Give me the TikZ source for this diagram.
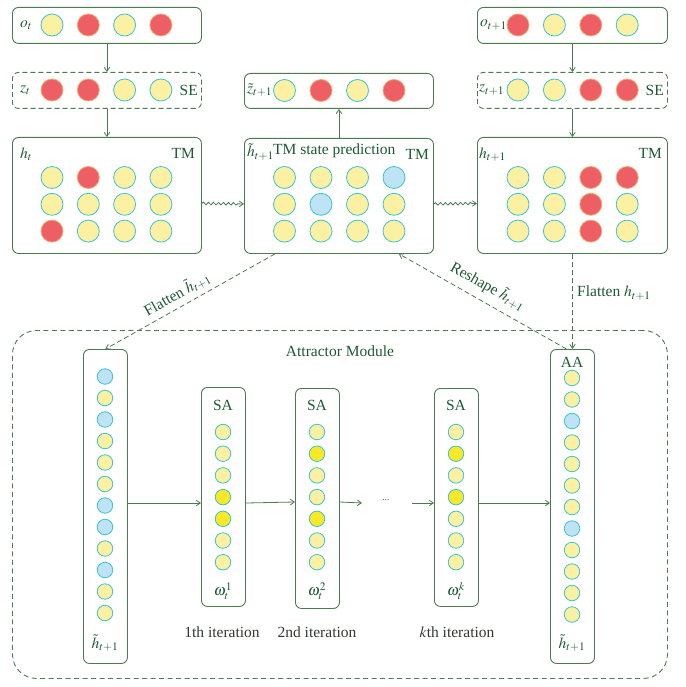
\documentclass[tikz,border=0pt]{standalone}
\usepackage{mathptmx}
\usepackage{fontspec}
\setmainfont{Liberation Serif}
\usetikzlibrary{arrows.meta,decorations.pathmorphing}
\definecolor{boxg}{RGB}{76,122,80}
\definecolor{txtg}{RGB}{30,88,50}
\definecolor{yelf}{RGB}{252,240,162}
\definecolor{cyb}{RGB}{60,196,206}
\definecolor{redf}{RGB}{238,95,101}
\definecolor{redb}{RGB}{244,168,112}
\definecolor{bluef}{RGB}{190,227,245}
\definecolor{brightf}{RGB}{248,232,40}
\definecolor{darktxt}{RGB}{50,55,50}
\tikzset{
  bx/.style={draw=boxg, line width=0.9pt, rounded corners=6pt, inner sep=0pt},
  dbx/.style={bx, dash pattern=on 5pt off 3pt},
  cc/.style={circle, line width=0.8pt, minimum size=22pt, inner sep=0pt},
  cY/.style={cc, draw=cyb, fill=yelf},
  cR/.style={cc, draw=redb, fill=redf},
  cB/.style={cc, draw=cyb, fill=bluef},
  sc/.style={circle, line width=0.8pt, minimum size=15.5pt, inner sep=0pt},
  sY/.style={sc, draw=cyb, fill=yelf},
  sB/.style={sc, draw=cyb, fill=bluef},
  sK/.style={sc, draw=cyb, fill=brightf},
  lbl/.style={text=txtg, inner sep=0pt},
  dlbl/.style={text=darktxt, inner sep=0pt},
  arr/.style={draw=boxg, line width=0.8pt, -{Straight Barb[length=4pt,width=5.5pt]}},
  darr/.style={arr, dash pattern=on 5pt off 3pt},
  wavy/.style={arr, decorate, decoration={snake, amplitude=1.3pt, segment length=5pt, post length=4pt}}
}
\begin{document}
\begin{tikzpicture}[x=1pt,y=-1pt, font=\fontsize{15.5}{18}\selectfont]
\useasboundingbox (0,0) rectangle (685,687);

% ---------- top boxes ----------
\node[bx, minimum width=189pt, minimum height=36pt, anchor=north west] (ot) at (12,7) {};
\node[dbx, minimum width=189pt, minimum height=36pt, anchor=north west] (zt) at (12,72) {};
\node[bx, minimum width=189pt, minimum height=116pt, anchor=north west] (ht) at (12,137) {};
\node[bx, minimum width=189pt, minimum height=35pt, anchor=north west] (zp) at (244,73) {};
\node[bx, minimum width=189pt, minimum height=115pt, anchor=north west] (hp) at (244,138) {};
\node[bx, minimum width=190pt, minimum height=36pt, anchor=north west] (on) at (477,7) {};
\node[dbx, minimum width=190pt, minimum height=36pt, anchor=north west] (zn) at (477,72) {};
\node[bx, minimum width=190pt, minimum height=116pt, anchor=north west] (hn) at (477,137) {};

% circles in top rows
\foreach \c [count=\i from 0] in {cY,cR,cY,cR} \node[\c] (ot-\i) at (52+36.3*\i,25) {};
\foreach \c [count=\i from 0] in {cR,cR,cY,cY} \node[\c] (zt-\i) at (52+36.3*\i,90) {};
\foreach \c [count=\i from 0] in {cY,cR,cY,cR} \node[\c] (zp-\i) at (284.5+36.5*\i,90.5) {};
\foreach \c [count=\i from 0] in {cR,cY,cR,cY} \node[\c] (on-\i) at (518+36.4*\i,25) {};
\foreach \c [count=\i from 0] in {cY,cY,cR,cR} \node[\c] (zn-\i) at (518+36.4*\i,90) {};

% grids
\foreach \row [count=\r from 0] in {{cY,cR,cY,cY},{cY,cY,cY,cY},{cR,cY,cY,cY}}
  \foreach \c [count=\i from 0] in \row \node[\c] (ht-\r-\i) at (52+36.3*\i,177.5+26.8*\r) {};
\foreach \row [count=\r from 0] in {{cY,cY,cY,cB},{cY,cB,cY,cY},{cY,cY,cY,cY}}
  \foreach \c [count=\i from 0] in \row \node[\c] (hp-\r-\i) at (284.5+36.5*\i,177.5+26.8*\r) {};
\foreach \row [count=\r from 0] in {{cY,cY,cR,cR},{cY,cY,cR,cY},{cY,cY,cR,cY}}
  \foreach \c [count=\i from 0] in \row \node[\c] (hn-\r-\i) at (518+36.4*\i,177.5+26.8*\r) {};

% labels top
\node[lbl, anchor=west] (lot) at (20,25) {$o_t$};
\node[lbl, anchor=west] (lzt) at (20,90) {$z_t$};
\node[lbl, anchor=east] (lse1) at (198,90) {SE};
\node[lbl, anchor=base west] (lht) at (20,158) {$h_t$};
\node[lbl, anchor=base east] (ltm1) at (195,158) {TM};
\node[lbl, anchor=west] (lzp) at (247,90) {$\tilde{z}_{t+1}$};
\node[lbl, anchor=base west] (lhp) at (247,157) {$\tilde{h}_{t+1}$};
\node[lbl, anchor=base west] (lpred) at (273,155) {TM state prediction};
\node[lbl, anchor=base east] (ltm2) at (429,160) {TM};
\node[lbl, anchor=west] (lon) at (480,25) {$o_{t+1}$};
\node[lbl, anchor=west] (lzn) at (479,90) {$z_{t+1}$};
\node[lbl, anchor=east] (lse2) at (664,90) {SE};
\node[lbl, anchor=base west] (lhn) at (479,158) {$h_{t+1}$};
\node[lbl, anchor=base east] (ltm3) at (662,158) {TM};

% top connectors
\draw[arr] (ot.south) -- (zt.north);
\draw[arr] (zt.south) -- (ht.north);
\draw[arr] (on.south) -- (zn.north);
\draw[arr] (zn.south) -- (hn.north);
\draw[arr] (hp.north) -- (zp.south);
\draw[wavy] ([yshift=-8pt]ht.east) -- ([yshift=-8pt]hp.west);
\draw[wavy] ([yshift=-8pt]hp.east) -- ([yshift=-8pt]hn.west);

% ---------- attractor module ----------
\node[draw=boxg, line width=0.9pt, dash pattern=on 5pt off 3.5pt, rounded corners=24pt,
      minimum width=655pt, minimum height=348pt, anchor=north west, inner sep=0pt] (am) at (12,330) {};
\node[lbl] (lam) at (340,351) {Attractor Module};

\node[bx, minimum width=44pt, minimum height=314pt, anchor=north west] (fl) at (83,349) {};
\node[bx, minimum width=44pt, minimum height=314pt, anchor=north west] (aa) at (550,349) {};
\node[bx, minimum width=44pt, minimum height=219pt, anchor=north west] (sa1) at (201,387) {};
\node[bx, minimum width=44pt, minimum height=220pt, anchor=north west] (sa2) at (295,388) {};
\node[bx, minimum width=44pt, minimum height=218pt, anchor=north west] (sa3) at (434,388) {};

\foreach \c [count=\i from 0] in {sB,sY,sB,sY,sY,sY,sB,sB,sY,sB,sY,sY}
  \node[\c] (fl-\i) at (105,376.5+21.5*\i) {};
\foreach \c [count=\i from 0] in {sY,sY,sB,sY,sY,sY,sY,sB,sY,sY,sY,sY}
  \node[\c] (aa-\i) at (572,378+21.5*\i) {};
\foreach \c [count=\i from 0] in {sY,sY,sY,sK,sK,sY,sY}
  \node[\c] (sa1-\i) at (223,432+21.7*\i) {};
\foreach \c [count=\i from 0] in {sY,sK,sY,sY,sK,sY,sY}
  \node[\c] (sa2-\i) at (317,432+21.7*\i) {};
\foreach \c [count=\i from 0] in {sY,sK,sY,sK,sY,sY,sY}
  \node[\c] (sa3-\i) at (456,432+21.7*\i) {};

\node[lbl] (lsa1) at (223,405) {SA};
\node[lbl] (lsa2) at (317,405) {SA};
\node[lbl] (lsa3) at (456,405) {SA};
\node[lbl] (law1) at (223,591) {$\omega_t^1$};
\node[lbl] (law2) at (317,591) {$\omega_t^2$};
\node[lbl] (law3) at (456,591) {$\omega_t^k$};
\node[dlbl] (lit1) at (222,632) {1th iteration};
\node[dlbl] (lit2) at (317,632) {2nd iteration};
\node[dlbl] (lit3) at (457,632) {$k$th iteration};
\node[lbl] (lfl) at (105,643) {$\tilde{h}_{t+1}$};
\node[lbl] (laa) at (572,362) {AA};
\node[lbl] (laab) at (572,643) {$\tilde{h}_{t+1}$};
\node[dlbl, font=\fontsize{9}{10}\selectfont] (dots) at (386,500) {...};
\coordinate (d1) at (362,503);
\coordinate (d2) at (412,503);

\draw[arr] (fl.east |- 0,503) -- (sa1.west |- 0,503);
\draw[arr] (sa1.east |- 0,503) -- (sa2.west |- 0,502);
\draw[arr] (sa2.east |- 0,502) -- (d1);
\draw[arr] (d2) -- (sa3.west |- 0,503);
\draw[arr] (sa3.east |- 0,503) -- (aa.west |- 0,503);

% dashed connectors
\draw[darr] ([xshift=-64pt]hp.south) -- (fl.north);
\draw[darr] ([xshift=-6pt]aa.north) -- ([xshift=60pt]hp.south);
\draw[darr] (hn.south) -- (aa.north);
\node[lbl, rotate=29.6] (lflat) at (177,294) {Flatten $\tilde{h}_{t+1}$};
\node[lbl, rotate=-29.5] (lresh) at (488,286) {Reshape $\tilde{h}_{t+1}$};
\node[lbl, anchor=west] (lflat2) at (577,293) {Flatten $h_{t+1}$};
\end{tikzpicture}
\end{document}
